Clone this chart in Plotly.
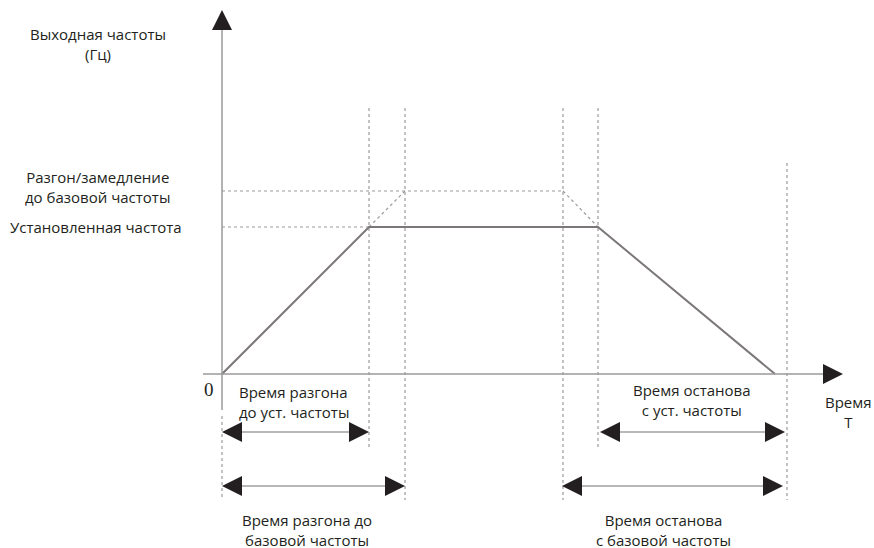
import plotly.graph_objects as go

# time points along the T axis (same units as frequency, origin at 0)
t_acc_set = 147      # end of accel to set frequency
t_acc_base = 183     # end of accel to base frequency
t_dec_base = 341     # start of decel from base frequency
t_dec_set = 376      # start of decel from set frequency
t_stop = 553         # output reaches zero
t_stop_base = 565    # end of stop time marker

# frequency levels
f_set = 147
f_base = 183

# curve
curve_t = [0, t_acc_set, t_dec_set, t_stop]
curve_f = [0, f_set, f_set, 0]

ink = '#231f20'
dash_grey = '#9a9a9a'
font = dict(family='Open Sans', size=15, color=ink)

fig = go.Figure()

# guide lines (dashed)
guides = [
    ([0, t_acc_set], [f_set, f_set]),
    ([0, t_dec_base], [f_base, f_base]),
    ([t_acc_set, t_acc_base], [f_set, f_base]),
    ([t_dec_base, t_dec_set], [f_base, f_set]),
]
for gx, gy in guides:
    fig.add_trace(go.Scatter(x=gx, y=gy, mode='lines',
                             line=dict(color=dash_grey, width=1.2, dash='3px,3px'),
                             hoverinfo='skip'))

# vertical markers: (time, top, bottom)
top = 266
verticals = [(t_acc_set, top, -76), (t_acc_base, top, -126),
             (t_dec_base, top, -126), (t_dec_set, top, -76),
             (t_stop_base, 211, -126), (0, -42, -126)]
for vx, y0, y1 in verticals:
    fig.add_trace(go.Scatter(x=[vx, vx], y=[y0, y1], mode='lines',
                             line=dict(color=dash_grey, width=1.2, dash='3px,3px'),
                             hoverinfo='skip'))

# axes
fig.add_shape(type='line', x0=-19, x1=605, y0=0, y1=0,
              line=dict(color='#9a9a9a', width=1.5))
fig.add_shape(type='line', x0=0, x1=0, y0=-36, y1=346,
              line=dict(color='#9a9a9a', width=1.5))

# main curve
fig.add_trace(go.Scatter(x=curve_t, y=curve_f, mode='lines',
                         line=dict(color='#7d7878', width=2), hoverinfo='skip'))

# double arrows under the axis
spans = [(0, t_acc_set, -58), (0, t_acc_base, -112),
         (t_dec_set + 2, t_stop_base - 2, -58), (t_dec_base - 1, t_stop_base - 4, -112)]
for s0, s1, sy in spans:
    fig.add_shape(type='line', x0=s0 + 5, x1=s1 - 5, y0=sy, y1=sy,
                  line=dict(color='#a0a0a0', width=1.5))


def head(x, y, dx, dy):
    fig.add_annotation(x=x, y=y, ax=x - dx, ay=y - dy, axref='x', ayref='y',
                       xref='x', yref='y', text='', showarrow=True,
                       arrowhead=2, arrowsize=4, arrowwidth=1, arrowcolor=ink)


for s0, s1, sy in spans:
    head(s0, sy, -20, 0)
    head(s1, sy, 20, 0)
head(621, 0, 20, 0)
head(0, 364, 0, 20)

# labels
labels = [
    (-124, 330, 'Выходная частоты<br>(Гц)', 'center'),
    (-125, 187, 'Разгон/замедление<br>до базовой частоты', 'center'),
    (-126, 147, 'Установленная частота', 'center'),
    (15, -28, 'Время разгона<br>до уст. частоты', 'left'),
    (85, -156, 'Время разгона до<br>базовой частоты', 'center'),
    (470, -26, 'Время останова<br>с уст. частоты', 'center'),
    (441, -156, 'Время останова<br>с базовой частоты', 'center'),
    (626, -38, 'Время<br>T', 'center'),
]
for lx, ly, txt, al in labels:
    fig.add_annotation(x=lx, y=ly, text=txt, showarrow=False, font=font,
                       xanchor='left' if al == 'left' else 'center',
                       yanchor='middle', align=al)

fig.add_annotation(x=-13, y=-15, text='0', showarrow=False,
                   font=dict(family='Liberation Serif', size=19, color=ink))

fig.update_layout(width=874, height=548, margin=dict(l=0, r=0, t=0, b=0),
                  paper_bgcolor='white', plot_bgcolor='white', showlegend=False,
                  xaxis=dict(range=[-222, 652], visible=False, fixedrange=True),
                  yaxis=dict(range=[-174, 374], visible=False, fixedrange=True))

fig.write_html("out.html", config={'displayModeBar': False},
               post_script="document.body.style.margin='0';document.body.style.overflow='hidden';")
